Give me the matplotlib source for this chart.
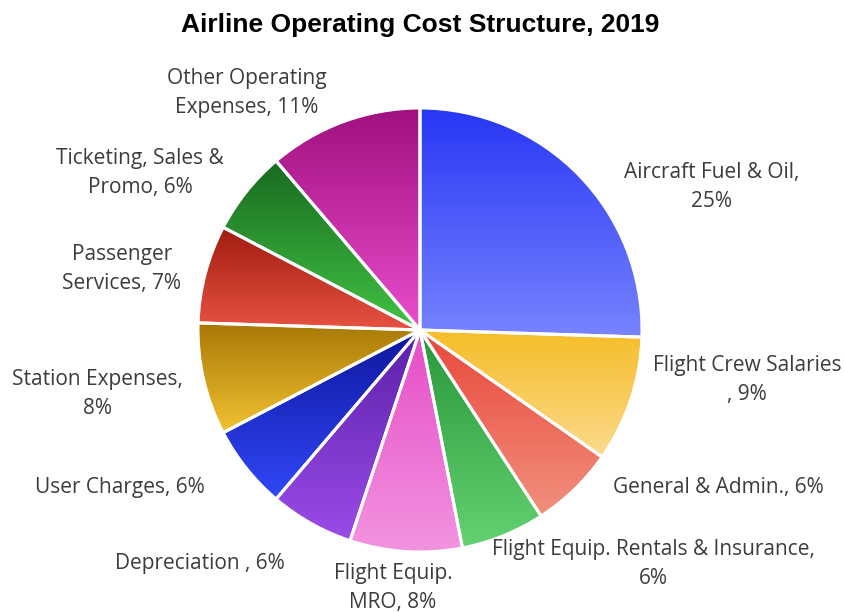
import numpy as np
import matplotlib
matplotlib.use("Agg")
import matplotlib.pyplot as plt
from matplotlib.colors import to_rgb

# data
labels = [
    "Aircraft Fuel & Oil,\n25%",
    "Flight Crew Salaries\n, 9%",
    "General & Admin., 6%",
    "Flight Equip. Rentals & Insurance,\n6%",
    "Flight Equip.\nMRO, 8%",
    "Depreciation , 6%",
    "User Charges, 6%",
    "Station Expenses,\n8%",
    "Passenger\nServices, 7%",
    "Ticketing, Sales &\nPromo, 6%",
    "Other Operating\nExpenses, 11%",
]
shares = [25, 9, 6, 6, 8, 6, 6, 8, 7, 6, 11]

# gradient colours (top, bottom) per slice
tops = ["#2636f4", "#f6bd28", "#e8473a", "#28973a", "#e64cc6",
        "#5a20a8", "#0e169c", "#a87806", "#a01c10", "#186a20", "#a0107e"]
bottoms = ["#7884ff", "#fbda8c", "#f2907e", "#64d272", "#f294e0",
           "#9c4ce8", "#3048f8", "#f2c232", "#e85242", "#42c244", "#ea4ece"]

# label centres in pixels
label_pos = [(712, 187), (747, 380), (718, 487), (653, 564), (393, 588),
             (200, 563), (120, 487), (97, 394), (122, 269), (140, 173), (247, 93)]

W, H = 844, 612
fig = plt.figure(figsize=(W / 100, H / 100), dpi=100)
ax = fig.add_axes([0, 0, 1, 1])

wedges, _ = ax.pie(shares, startangle=90, counterclock=False,
                   center=(420, H - 330), radius=222, frame=True,
                   wedgeprops=dict(edgecolor="white", linewidth=2.2))

for w, c0, c1 in zip(wedges, tops, bottoms):
    w.set_facecolor("none")
    w.set_zorder(3)
    ext = w.get_path().get_extents()
    t = np.linspace(0, 1, 256)[:, None]
    a, b = np.array(to_rgb(c0)), np.array(to_rgb(c1))
    img = (a * (1 - t) + b * t)[:, None, :]
    im = ax.imshow(img, extent=(ext.x0, ext.x1, ext.y0, ext.y1),
                   origin="upper", aspect="auto", zorder=2, interpolation="bilinear")
    im.set_clip_path(w)

for lab, (x, y) in zip(labels, label_pos):
    ax.text(x, H - y, lab, ha="center", va="center", fontsize=15,
            color="#3c3c3c", family="Open Sans", linespacing=1.55)

ax.text(420, H - 25, "Airline Operating Cost Structure, 2019", ha="center",
        va="center", fontsize=19, fontweight="bold",
        family=["Liberation Sans Narrow", "Liberation Sans"])

ax.set_xlim(0, W)
ax.set_ylim(0, H)
ax.set_aspect("auto")
ax.axis("off")
fig.savefig("out.png", dpi=100)
